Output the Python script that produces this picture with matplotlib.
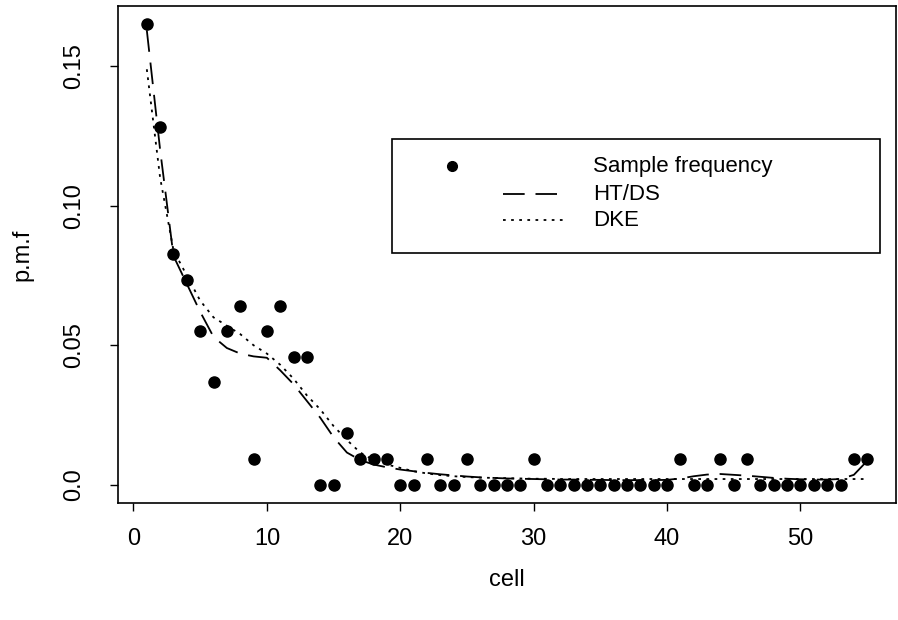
import matplotlib
matplotlib.use("Agg")
import matplotlib.pyplot as plt
from matplotlib.lines import Line2D
from matplotlib.patches import Rectangle

plt.rcParams['font.family'] = ['Liberation Sans', 'DejaVu Sans']

# ---- data ----
cells = list(range(1, 56))
counts = [18, 14, 9, 8, 6, 4, 6, 7, 1, 6,
          7, 5, 5, 0, 0, 2, 1, 1, 1, 0,
          0, 1, 0, 0, 1, 0, 0, 0, 0, 1,
          0, 0, 0, 0, 0, 0, 0, 0, 0, 0,
          1, 0, 0, 1, 0, 1, 0, 0, 0, 0,
          0, 0, 0, 1, 1]
n_total = 109
sample_freq = [c / n_total for c in counts]

htds = [0.163, 0.120, 0.082, 0.072, 0.062, 0.053, 0.049, 0.047, 0.046, 0.0455,
        0.041, 0.036, 0.030, 0.024, 0.017, 0.0115, 0.0088, 0.0072, 0.0062, 0.0054,
        0.0048, 0.0042, 0.0037, 0.0033, 0.0029, 0.0026, 0.0024, 0.0022, 0.0021, 0.0020,
        0.0019, 0.0018, 0.0018, 0.0017, 0.0017, 0.0016, 0.0016, 0.0016, 0.0016, 0.0017,
        0.0022, 0.0030, 0.0036, 0.0038, 0.0035, 0.0032, 0.0028, 0.0024, 0.0021, 0.0019,
        0.0018, 0.0018, 0.0020, 0.0035, 0.0085]

dke = [0.149, 0.110, 0.084, 0.075, 0.066, 0.060, 0.057, 0.054, 0.050, 0.047,
       0.043, 0.038, 0.032, 0.027, 0.021, 0.016, 0.0115, 0.0088, 0.0072, 0.0060,
       0.0048, 0.0040, 0.0034, 0.0030, 0.0027, 0.0025, 0.0024, 0.0023, 0.0022, 0.0021,
       0.0021, 0.0020, 0.0020, 0.0020, 0.0020, 0.0020, 0.0020, 0.0020, 0.0020, 0.0020,
       0.0020, 0.0020, 0.0020, 0.0020, 0.0020, 0.0020, 0.0020, 0.0020, 0.0020, 0.0020,
       0.0020, 0.0020, 0.0020, 0.0020, 0.0020]

xticks = [0, 10, 20, 30, 40, 50]
yticks = [0.0, 0.05, 0.10, 0.15]
ytick_labels = ["0.0", "0.05", "0.10", "0.15"]
legend_labels = ["Sample frequency", "HT/DS", "DKE"]

# ---- figure ----
W, H = 898, 620
fig = plt.figure(figsize=(W / 100, H / 100), dpi=100)
ax = fig.add_axes([118 / W, 1 - 503 / H, (896 - 118) / W, (503 - 6) / H])

dash_style = (0, (12, 6))
dot_style = (0, (1.5, 3))

ax.plot(cells, sample_freq, 'o', color='black', markersize=8, zorder=3)
ax.plot(cells, htds, color='black', lw=1.3, linestyle=dash_style)
ax.plot(cells, dke, color='black', lw=1.3, linestyle=dot_style)

ax.set_xlim(-1.16, 57.16)
ax.set_ylim(-0.0066, 0.1717)
ax.set_xticks(xticks)
ax.set_xticklabels([str(t) for t in xticks])
ax.set_yticks(yticks)
ax.set_yticklabels(ytick_labels, rotation=90, va='center')
ax.tick_params(axis='both', direction='out', length=6, width=1, labelsize=17,
               colors='black')
ax.tick_params(axis='x', pad=12)
ax.tick_params(axis='y', pad=18)
for s in ax.spines.values():
    s.set_linewidth(1.2)
    s.set_color('black')

fig.text(507 / W, 1 - 580 / H, "cell", ha='center', va='center', fontsize=17)
fig.text(22 / W, 1 - 255 / H, "p.m.f", ha='center', va='center', fontsize=17,
         rotation=90)

# ---- legend (R style, drawn in figure coords) ----
def fx(x):
    return x / W

def fy(y):
    return 1 - y / H

box = Rectangle((fx(392), fy(253)), fx(880) - fx(392), fy(139) - fy(253),
                transform=fig.transFigure, facecolor='white', edgecolor='black',
                lw=1.2, zorder=5)
fig.add_artist(box)
rows = [166, 194, 220]
fig.add_artist(Line2D([fx(452)], [fy(rows[0])], marker='o', color='black',
                      markersize=7, transform=fig.transFigure, zorder=6))
fig.add_artist(Line2D([fx(503), fx(557)], [fy(rows[1])] * 2, color='black', lw=1.3,
                      linestyle=dash_style, transform=fig.transFigure, zorder=6))
fig.add_artist(Line2D([fx(503), fx(563)], [fy(rows[2])] * 2, color='black', lw=1.3,
                      linestyle=dot_style, transform=fig.transFigure, zorder=6))
for lab, r in zip(legend_labels, rows):
    fig.text(fx(593), fy(r), lab, ha='left', va='center', fontsize=16, zorder=7)

fig.savefig("out.png", dpi=100)
